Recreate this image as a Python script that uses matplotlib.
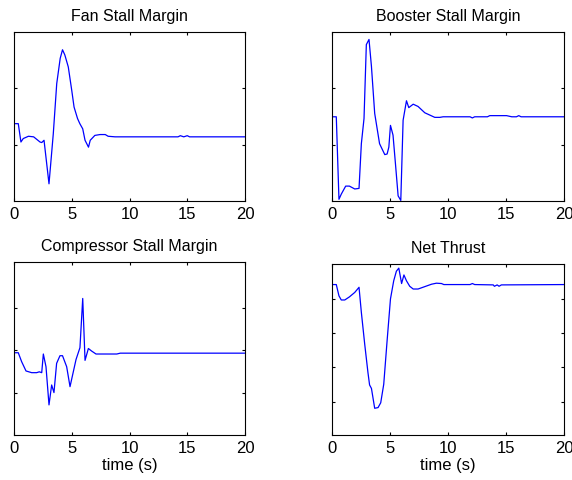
import matplotlib
matplotlib.use("Agg")
import matplotlib.pyplot as plt

plt.rcParams['font.family'] = ['Liberation Sans', 'DejaVu Sans']

# Fan stall margin (arbitrary units)
t_fan = [0, 0.37, 0.6, 0.8, 1.25, 1.7, 2.25, 2.4, 2.6, 3.03, 3.4, 3.7, 4.0, 4.2, 4.4,
         4.7, 5.0, 5.2, 5.5, 5.7, 5.95, 6.15, 6.45, 6.6, 7.0, 7.45, 7.9, 8.15, 8.75,
         14.2, 14.4, 14.7, 15.0, 15.2, 20]
fan = [0.38, 0.38, 0.06, 0.12, 0.16, 0.15, 0.06, 0.05, 0.09, -0.67, 0.20, 1.08, 1.52, 1.67, 1.58,
       1.37, 0.96, 0.67, 0.47, 0.38, 0.29, 0.09, -0.03, 0.09, 0.175, 0.19, 0.19, 0.16, 0.15,
       0.15, 0.17, 0.15, 0.17, 0.15, 0.15]

# Booster stall margin
t_boo = [0, 0.37, 0.6, 0.8, 1.18, 1.5, 1.96, 2.33, 2.53, 2.76, 2.96, 3.19, 3.4, 3.68, 4.1,
         4.55, 4.75, 4.9, 5.04, 5.26, 5.47, 5.7, 5.93, 6.13, 6.42, 6.62, 7.0, 7.42, 8.0,
         8.43, 8.86, 9.3, 9.58, 11.9, 12.1, 12.3, 13.4, 13.6, 15.05, 15.5, 15.9, 16.1, 16.3, 20]
booster = [0.50, 0.50, -0.94, -0.85, -0.71, -0.71, -0.76, -0.75, 0.03, 0.47, 1.76, 1.85, 1.38, 0.56, 0.03,
           -0.16, -0.15, -0.03, 0.35, 0.18, -0.32, -0.88, -0.96, 0.44, 0.78, 0.66, 0.72, 0.68, 0.57,
           0.53, 0.49, 0.49, 0.50, 0.50, 0.48, 0.50, 0.50, 0.52, 0.52, 0.50, 0.50, 0.52, 0.50, 0.50]

# Compressor stall margin
t_comp = [0, 0.37, 0.66, 1.04, 1.53, 1.96, 2.19, 2.4, 2.54, 2.77, 3.03, 3.26, 3.46, 3.69, 3.98,
          4.2, 4.56, 4.85, 5.37, 5.71, 5.95, 6.15, 6.44, 6.72, 7.1, 8.9, 9.2, 20]
compressor = [-0.06, -0.06, -0.27, -0.49, -0.53, -0.53, -0.51, -0.53, -0.09, -0.39, -1.29, -0.82, -1.0, -0.31, -0.13,
              -0.13, -0.39, -0.86, -0.22, 0.06, 1.22, -0.24, 0.04, -0.02, -0.09, -0.09, -0.07, -0.07]

# Net thrust
t_thr = [0, 0.37, 0.6, 0.8, 1.1, 1.5, 1.96, 2.33, 2.53, 2.82, 3.1, 3.24, 3.4, 3.68, 3.97,
         4.2, 4.46, 4.75, 5.04, 5.32, 5.55, 5.76, 6.0, 6.2, 6.42, 6.7, 7.0, 7.42, 8.0,
         8.58, 9.0, 9.44, 9.64, 11.9, 12.1, 12.3, 13.9, 14.0, 14.24, 14.4, 14.6, 20]
thrust = [4.42, 4.42, 4.09, 3.97, 3.97, 4.06, 4.19, 4.34, 3.61, 2.68, 1.85, 1.49, 1.39, 0.81, 0.83,
          0.97, 1.51, 2.78, 4.0, 4.53, 4.81, 4.90, 4.45, 4.70, 4.53, 4.37, 4.29, 4.29, 4.36,
          4.43, 4.46, 4.45, 4.42, 4.42, 4.45, 4.42, 4.41, 4.37, 4.41, 4.37, 4.41, 4.42]

W, H = 572, 480
fig = plt.figure(figsize=(W / 100, H / 100), dpi=100)


def make_axes(left, top, right, bottom):
    return fig.add_axes([left / W, 1 - bottom / H, (right - left) / W, (bottom - top) / H])


panels = [
    (make_axes(14, 32, 245, 201), t_fan, fan, "Fan Stall Margin", (-0.97, 1.98), [0, 1], False),
    (make_axes(332, 32, 564, 201), t_boo, booster, "Booster Stall Margin", (-0.97, 1.98), [0, 1], False),
    (make_axes(14, 262, 245, 435), t_comp, compressor, "Compressor Stall Margin", (-2.0, 2.08), [-1, 0, 1], True),
    (make_axes(332, 264, 564, 435), t_thr, thrust, "Net Thrust", (0.03, 5.02), [1, 2, 3, 4], True),
]

for ax, t, y, title, ylim, yticks, show_xlabel in panels:
    ax.plot(t, y, color='#0000ff', linewidth=0.9)
    ax.set_xlim(0, 20)
    ax.set_ylim(*ylim)
    ax.set_xticks([0, 5, 10, 15, 20])
    ax.set_yticks(yticks)
    ax.set_yticklabels([])
    ax.tick_params(direction='in', length=2.5, width=0.8, top=True, right=True,
                   labelsize=12, pad=4.5)
    for sp in ax.spines.values():
        sp.set_linewidth(0.8)
    ax.set_title(title, fontsize=11.5, pad=8)
    if show_xlabel:
        ax.set_xlabel("time (s)", fontsize=12, labelpad=1)

fig.savefig("out.png", dpi=100)
